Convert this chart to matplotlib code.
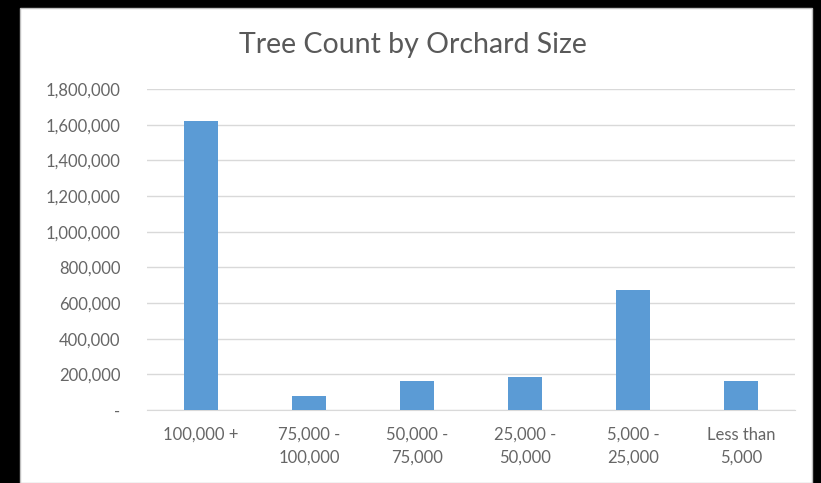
import matplotlib.pyplot as plt
from matplotlib.patches import Rectangle
from matplotlib.ticker import FuncFormatter

categorias = ['100,000 +', '75,000 -\n100,000', '50,000 -\n75,000', '25,000 -\n50,000',
              '5,000 -\n25,000', 'Less than\n5,000']
arvores = [1622000, 76000, 164000, 186000, 672000, 162000]
ticks_y = [0, 200000, 400000, 600000, 800000, 1000000, 1200000, 1400000, 1600000, 1800000]

plt.rcParams['font.family'] = ['Lato', 'DejaVu Sans']

fig = plt.figure(figsize=(8.21, 4.83), dpi=100, facecolor='black')

# painel branco do grafico
painel = Rectangle((20 / 821, 0), (812 - 20) / 821, 1 - 8 / 483, transform=fig.transFigure,
                   facecolor='white', edgecolor='#bfbfbf', linewidth=1, zorder=-5)
fig.patches.append(painel)

ax = fig.add_axes([147 / 821, 1 - 410 / 483, (795 - 147) / 821, (410 - 89) / 483])
ax.set_zorder(2)
ax.set_facecolor('none')
x = range(len(categorias))
ax.bar(x, arvores, width=0.31, color='#5B9BD5', zorder=3)

ax.set_xlim(-0.5, len(categorias) - 0.5)
ax.set_ylim(0, 1800000)
ax.set_yticks(ticks_y)
ax.yaxis.set_major_formatter(FuncFormatter(lambda v, p: '-' if v == 0 else f'{int(v):,}'))
ax.set_xticks(list(x))
ax.set_xticklabels(categorias, linespacing=1.5)

ax.grid(axis='y', color='#d9d9d9', linewidth=1, zorder=0)
for lado in ['top', 'right', 'left']:
    ax.spines[lado].set_visible(False)
ax.spines['bottom'].set_color('#d9d9d9')
ax.tick_params(axis='both', length=0, labelsize=12, colors='#666666')
ax.tick_params(axis='y', pad=19)
ax.tick_params(axis='x', pad=12)

fig.text(413 / 821, 1 - 45 / 483, 'Tree Count by Orchard Size', ha='center', va='center',
         fontsize=20.5, color='#595959', zorder=5)

plt.savefig('out.png', dpi=100, facecolor='black')
